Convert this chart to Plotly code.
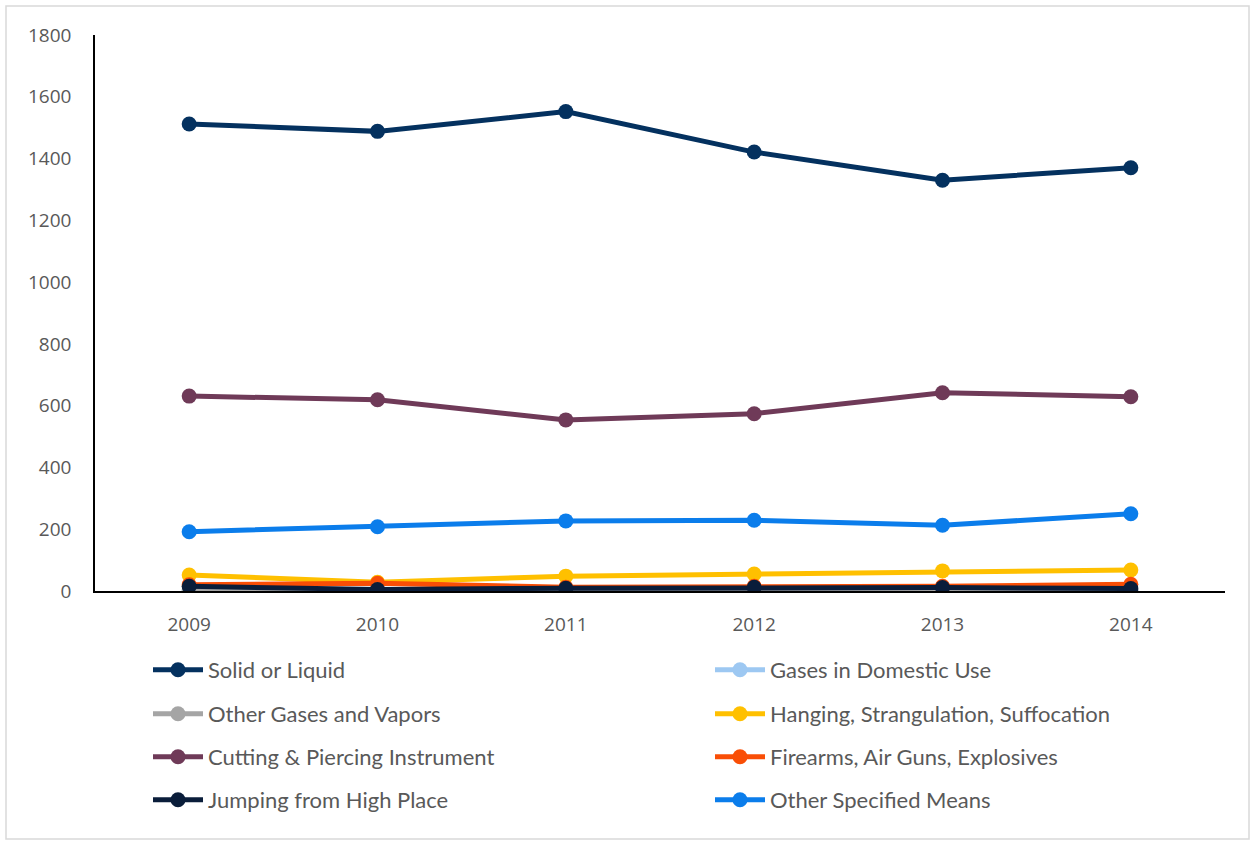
import plotly.graph_objects as go

years = ["2009", "2010", "2011", "2012", "2013", "2014"]

solid_liquid = [1512, 1488, 1552, 1421, 1330, 1370]
gases_domestic = [2, 1, 1, 1, 1, 1]
other_gases = [3, 2, 2, 2, 2, 2]
hanging = [52, 28, 48, 55, 65, 68]
cutting = [631, 619, 554, 574, 642, 629]
firearms = [20, 25, 12, 15, 15, 22]
jumping = [15, 5, 9, 12, 11, 8]
other_specified = [192, 208, 227, 229, 213, 250]

series_names = [
    "Solid or Liquid",
    "Gases in Domestic Use",
    "Other Gases and Vapors",
    "Hanging, Strangulation, Suffocation",
    "Cutting & Piercing Instrument",
    "Firearms, Air Guns, Explosives",
    "Jumping from High Place",
    "Other Specified Means",
]
series_values = [solid_liquid, gases_domestic, other_gases, hanging,
                 cutting, firearms, jumping, other_specified]
colors = ["#04315F", "#9DC8F2", "#A5A5A5", "#FFC000",
          "#6F3A58", "#F94E06", "#0A1D3A", "#0B7DEB"]

W, H = 1254, 844
L, R, T, B = 95, 29, 35, 253
pw, ph = W - L - R, H - T - B

def px_x(p):
    return (p - L) / pw

def px_y(p):
    return (H - B - p) / ph

fig = go.Figure()
legend_layout = {}
col_x = [148, 710]
row_y = [670, 714, 757, 800]
for i, (name, vals, col) in enumerate(zip(series_names, series_values, colors)):
    lid = "legend" if i == 0 else f"legend{i + 1}"
    fig.add_trace(go.Scatter(
        x=years, y=vals, name=name, mode="lines+markers",
        line=dict(color=col, width=5),
        marker=dict(color=col, size=15),
        legend=lid,
    ))
    legend_layout[lid] = dict(
        x=px_x(col_x[i % 2]), y=px_y(row_y[i // 2]),
        xanchor="left", yanchor="middle",
        font=dict(family="Lato, Open Sans, sans-serif", size=22, color="#595959"),
        itemwidth=50, bgcolor="rgba(0,0,0,0)",
    )

fig.add_shape(type="rect", xref="paper", yref="paper",
              x0=px_x(6), x1=px_x(1249), y0=px_y(839), y1=px_y(6),
              line=dict(color="#D9D9D9", width=1.5), layer="below")

fig.update_layout(
    width=W, height=H,
    margin=dict(l=L, r=R, t=T, b=B, autoexpand=False),
    paper_bgcolor="white", plot_bgcolor="white",
    font=dict(family="Open Sans, Liberation Sans, sans-serif", color="#595959", size=17),
    showlegend=True,
    xaxis=dict(
        type="category", range=[-0.5, 5.5], showgrid=False,
        showline=True, linecolor="black", linewidth=1.5,
        ticks="", tickfont=dict(size=19, color="#595959"),
        ticklabelstandoff=15,
    ),
    yaxis=dict(
        range=[0, 1800], dtick=200, showgrid=False, zeroline=False,
        showline=True, linecolor="black", linewidth=1.5,
        ticks="", tickfont=dict(size=19, color="#595959"),
        ticklabelstandoff=18,
    ),
    **legend_layout,
)

fig.write_html("out.html", config={"displayModeBar": False},
               post_script="document.body.style.margin='0';")
